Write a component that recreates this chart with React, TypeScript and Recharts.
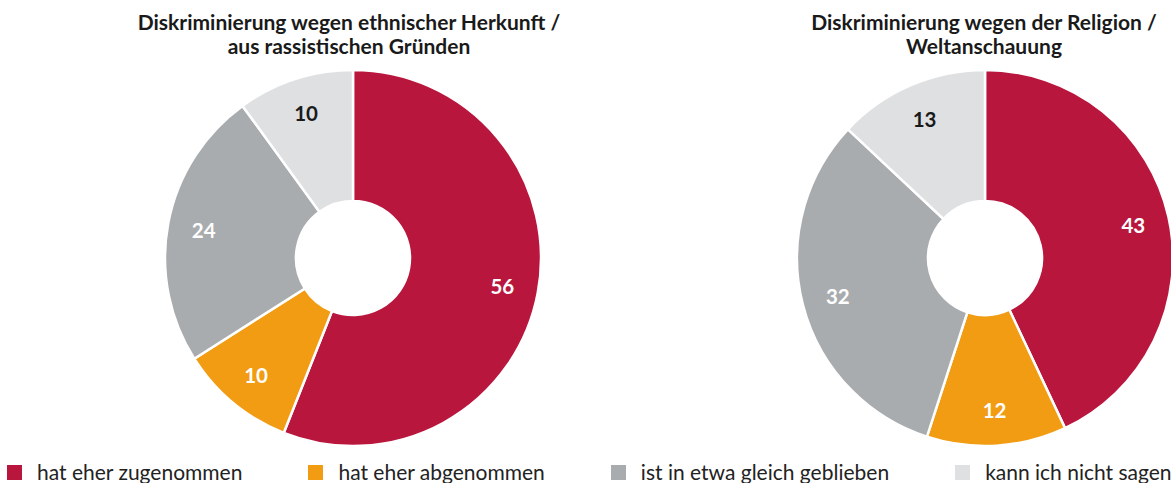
import React from 'react';
import { PieChart, Pie, Cell, Legend } from 'recharts';

const categories = [
  'hat eher zugenommen',
  'hat eher abgenommen',
  'ist in etwa gleich geblieben',
  'kann ich nicht sagen',
];
const ethnicValues = [56, 10, 24, 10];
const religionValues = [43, 12, 32, 13];
const titleEthnic = ['Diskriminierung wegen ethnischer Herkunft /', 'aus rassistischen Gründen'];
const titleReligion = ['Diskriminierung wegen der Religion /', 'Weltanschauung'];

const COLORS = ['#B9163E', '#F19C12', '#A9ACAE', '#DFE0E2'];
const LABEL_COLORS = ['#ffffff', '#ffffff', '#ffffff', '#1a1a1a'];
const FONT = 'Lato, "Noto Sans", sans-serif';

const ethnicData = categories.map((name, i) => ({ name, value: ethnicValues[i] }));
const religionData = categories.map((name, i) => ({ name, value: religionValues[i] }));

const RADIAN = Math.PI / 180;
const renderLabel = (props: any) => {
  const { cx, cy, midAngle, value, index } = props;
  const r = 152;
  const x = cx + r * Math.cos(-midAngle * RADIAN);
  const y = cy + r * Math.sin(-midAngle * RADIAN);
  return (
    <text
      x={x}
      y={y}
      fill={LABEL_COLORS[index]}
      textAnchor="middle"
      dominantBaseline="central"
      style={{ fontFamily: FONT, fontWeight: 700, fontSize: 20.5 }}
    >
      {value}
    </text>
  );
};

const LegendContent = () => (
  <div style={{ display: 'flex', flexDirection: 'row', fontFamily: FONT, fontSize: 21, color: '#222' }}>
    {categories.map((c, i) => (
      <div key={c} style={{ display: 'flex', alignItems: 'center', height: 24, marginRight: i < 3 ? 66 : 0 }}>
        <div style={{ width: 15, height: 15, background: COLORS[i], marginRight: 15 }} />
        <span style={{ lineHeight: '24px', whiteSpace: 'nowrap' }}>{c}</span>
      </div>
    ))}
  </div>
);

const Title = ({ lines, cx }: { lines: string[]; cx: number }) => (
  <div
    style={{
      position: 'absolute',
      left: cx - 300,
      top: 10,
      width: 600,
      textAlign: 'center',
      fontFamily: FONT,
      fontWeight: 700,
      fontSize: 21,
      lineHeight: '24px',
      color: '#1a1a1a',
    }}
  >
    {lines.map((l) => (
      <div key={l}>{l}</div>
    ))}
  </div>
);

export default function App() {
  return (
    <div style={{ position: 'absolute', left: 0, top: 0, width: 1171, height: 483, overflow: 'hidden', background: '#fff' }}>
      <PieChart width={1171} height={483} margin={{ top: 0, right: 0, bottom: 0, left: 0 }}>
        <Pie
          data={ethnicData}
          dataKey="value"
          nameKey="name"
          cx={353}
          cy={258}
          innerRadius={57}
          outerRadius={188}
          startAngle={90}
          endAngle={-270}
          stroke="#ffffff"
          strokeWidth={2.5}
          label={renderLabel}
          labelLine={false}
          isAnimationActive={false}
        >
          {ethnicData.map((d, i) => (
            <Cell key={d.name} fill={COLORS[i]} />
          ))}
        </Pie>
        <Pie
          data={religionData}
          dataKey="value"
          nameKey="name"
          cx={985}
          cy={258}
          innerRadius={57}
          outerRadius={188}
          startAngle={90}
          endAngle={-270}
          stroke="#ffffff"
          strokeWidth={2.5}
          label={renderLabel}
          labelLine={false}
          isAnimationActive={false}
        >
          {religionData.map((d, i) => (
            <Cell key={d.name} fill={COLORS[i]} />
          ))}
        </Pie>
        <Legend
          content={<LegendContent />}
          wrapperStyle={{ position: 'absolute', left: 7, top: 460, width: 1164 }}
        />
      </PieChart>
      <Title lines={titleEthnic} cx={349} />
      <Title lines={titleReligion} cx={984} />
    </div>
  );
}
